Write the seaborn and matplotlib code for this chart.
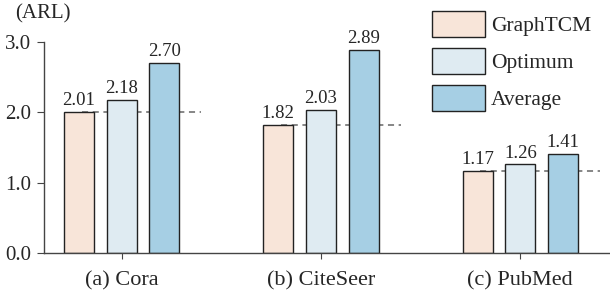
import matplotlib
matplotlib.use("Agg")
import matplotlib.pyplot as plt
import seaborn as sns
import pandas as pd

datasets = ["(a) Cora", "(b) CiteSeer", "(c) PubMed"]
methods = ["GraphTCM", "Optimum", "Average"]
graphtcm = [2.01, 1.82, 1.17]
optimum = [2.18, 2.03, 1.26]
average = [2.70, 2.89, 1.41]

colors = ["#f8e5d9", "#dfebf2", "#a6cfe4"]

df = pd.DataFrame({
    "dataset": datasets * 3,
    "method": [m for m in methods for _ in datasets],
    "ARL": graphtcm + optimum + average,
})

sns.set_style("ticks")
plt.rcParams["font.family"] = ["Liberation Serif", "DejaVu Serif"]

fig = plt.figure(figsize=(6.1, 2.92), dpi=100)
ax = fig.add_axes([0.072, 0.134, 0.928, 0.722])

sns.barplot(data=df, x="dataset", y="ARL", hue="method", palette=colors,
            saturation=1, width=0.642, gap=0.3, edgecolor="#222222",
            linewidth=1.0, ax=ax, legend=True)

for c in ax.containers:
    ax.bar_label(c, fmt="%.2f", padding=2, fontsize=13.5)

for i, v in enumerate(graphtcm):
    ax.hlines(v, i - 0.2, i + 0.40, colors="#666666", linestyles=(0, (4, 3)),
              linewidth=1.1, zorder=0.5)

ax.set_ylim(0, 3.0)
ax.set_xlim(-0.39, 2.45)
ax.set_yticks([0, 1, 2, 3])
ax.set_yticklabels(["0.0", "1.0", "2.0", "3.0"])
ax.set_xlabel("")
ax.set_ylabel("")
ax.tick_params(axis="y", labelsize=15, length=5, color="#444444", pad=4)
ax.tick_params(axis="x", labelsize=16, length=4, color="#444444", pad=9)
for s in ["top", "right"]:
    ax.spines[s].set_visible(False)
for s in ["left", "bottom"]:
    ax.spines[s].set_color("#444444")
    ax.spines[s].set_linewidth(1.0)

ax.legend(loc="upper left", bbox_to_anchor=(432 / 610, 1 - 11 / 292),
          bbox_transform=fig.transFigure, frameon=False, borderpad=0,
          borderaxespad=0, handlelength=2.45, handleheight=1.5,
          labelspacing=0.5, handletextpad=0.3, fontsize=15.5)

fig.text(15 / 610, 1 - 4 / 292, "(ARL)", ha="left", va="top", fontsize=15)

fig.savefig("out.png", dpi=100)
